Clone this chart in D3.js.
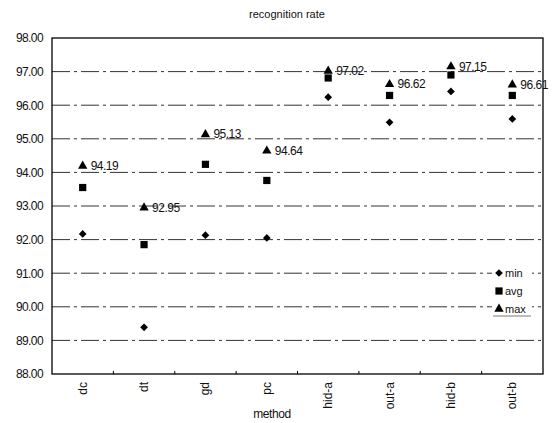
<!DOCTYPE html>
<html lang="en">
<head>
    <meta charset="UTF-8">
    <title>recognition rate</title>
    <script src="https://d3js.org/d3.v7.min.js"></script>
    <style>
        body { margin: 0; background: #fff; }
        text { font-family: "Liberation Sans", Arial, sans-serif; fill: #111; }
    </style>
</head>
<body>

<svg width="553" height="423"></svg>

<script>
// Data
var methods = ["dc", "dt", "gd", "pc", "hid-a", "out-a", "hid-b", "out-b"];
var minVals = [92.17, 89.39, 92.13, 92.05, 96.24, 95.49, 96.41, 95.59];
var avgVals = [93.55, 91.85, 94.24, 93.76, 96.81, 96.29, 96.90, 96.29];
var maxVals = [94.19, 92.95, 95.13, 94.64, 97.02, 96.62, 97.15, 96.61];
var yTicks = [88, 89, 90, 91, 92, 93, 94, 95, 96, 97, 98];

var svg = d3.select("svg");
var m = { left: 52, right: 543, top: 38, bottom: 374 };

var x = d3.scaleBand().domain(methods).range([m.left, m.right]);
var y = d3.scaleLinear().domain([88, 98]).range([m.bottom, m.top]);

// title
svg.append("text")
    .attr("x", 287).attr("y", 18)
    .attr("text-anchor", "middle")
    .attr("font-size", "11px")
    .text("recognition rate");

// dash-dot grid lines
svg.append("g")
    .selectAll("line")
    .data(yTicks.slice(1, -1))
    .enter()
    .append("line")
    .attr("x1", m.left).attr("x2", m.right)
    .attr("y1", d => y(d)).attr("y2", d => y(d))
    .attr("stroke", "#333")
    .attr("stroke-width", 1)
    .attr("stroke-dasharray", "18,4,3,4");

// frame
svg.append("rect")
    .attr("x", m.left).attr("y", m.top)
    .attr("width", m.right - m.left).attr("height", m.bottom - m.top)
    .attr("fill", "none")
    .attr("stroke", "#000")
    .attr("stroke-width", 1.3);

// y axis labels
var yAxis = d3.axisLeft(y)
    .tickValues(yTicks)
    .tickFormat(d3.format(".2f"))
    .tickSize(0)
    .tickPadding(9);
var gy = svg.append("g").attr("transform", `translate(${m.left},0)`).call(yAxis);
gy.select(".domain").remove();
gy.selectAll("text")
    .attr("font-size", "12px")
    .attr("font-family", "Liberation Sans, Arial, sans-serif")
    .attr("letter-spacing", "-0.6px")
    .attr("fill", "#000");

// small ticks between categories on the bottom edge
svg.append("g")
    .selectAll("line")
    .data(methods.slice(1))
    .enter()
    .append("line")
    .attr("x1", d => x(d)).attr("x2", d => x(d))
    .attr("y1", m.bottom).attr("y2", m.bottom - 3)
    .attr("stroke", "#000");

// x axis labels, rotated
svg.append("g")
    .selectAll("text")
    .data(methods)
    .enter()
    .append("text")
    .attr("transform", d => `translate(${x(d) + x.bandwidth() / 2 + 4},${m.bottom + 8}) rotate(-90)`)
    .attr("text-anchor", "end")
    .attr("font-size", "12px")
    .text(d => d);

svg.append("text")
    .attr("x", 272).attr("y", 418)
    .attr("text-anchor", "middle")
    .attr("font-size", "12px")
    .attr("letter-spacing", "-0.4px")
    .text("method");

var cx = d => x(d) + x.bandwidth() / 2;
var diamond = d3.symbol().type(d3.symbolSquare).size(30);
var square = d3.symbol().type(d3.symbolSquare).size(52);
var triangle = d3.symbol().type(d3.symbolTriangle).size(38);

function drawSeries(vals, sym, rot) {
    svg.append("g")
        .selectAll("path")
        .data(methods)
        .enter()
        .append("path")
        .attr("d", sym)
        .attr("transform", (d, i) => `translate(${cx(d)},${y(vals[i])}) rotate(${rot})`)
        .attr("fill", "#000");
}
drawSeries(minVals, diamond, 45);
drawSeries(avgVals, square, 0);
drawSeries(maxVals, triangle, 0);

// value labels next to max
svg.append("g")
    .selectAll("text")
    .data(methods)
    .enter()
    .append("text")
    .attr("x", d => cx(d) + 8)
    .attr("y", (d, i) => y(maxVals[i]) + 4)
    .attr("font-size", "12px")
    .attr("letter-spacing", "-0.5px")
    .text((d, i) => d3.format(".2f")(maxVals[i]));

// legend
var legend = [["min", diamond, 45], ["avg", square, 0], ["max", triangle, 0]];
var lg = svg.append("g");
legend.forEach(function(item, i) {
    var ly = 273 + i * 18;
    lg.append("rect")
        .attr("x", 492).attr("y", ly - 8)
        .attr("width", 40).attr("height", 16)
        .attr("fill", "#fff");
    lg.append("path")
        .attr("d", item[1])
        .attr("transform", `translate(499,${ly}) rotate(${item[2]})`)
        .attr("fill", "#000");
    lg.append("text")
        .attr("x", 505).attr("y", ly + 4)
        .attr("font-size", "11px")
        .text(item[0]);
});
lg.append("line")
    .attr("x1", 493).attr("x2", 531)
    .attr("y1", 316).attr("y2", 316)
    .attr("stroke", "#555").attr("stroke-width", 0.8);
</script>

</body>
</html>
